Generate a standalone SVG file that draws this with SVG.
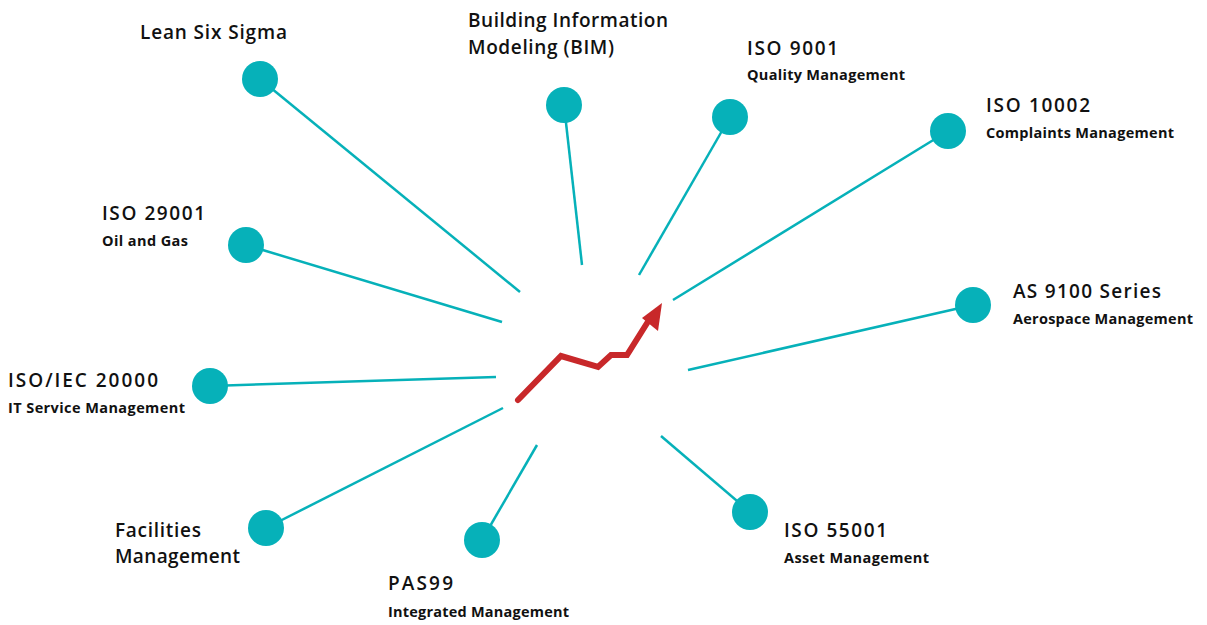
<svg xmlns="http://www.w3.org/2000/svg" width="1207" height="625" viewBox="0 0 1207 625">
<style>
.t{font-family:"Open Sans","Liberation Sans",sans-serif;font-weight:600;fill:#111;}
.h{font-size:19px;}
.s{font-size:14.5px;font-weight:700;}
.c{fill:#06b1b9;}
.l{stroke:#06b1b9;stroke-width:2.5;fill:none;}
</style>
<rect width="1207" height="625" fill="#fff"/>
<g id="connectors">
<line class="l" x1="260" y1="79" x2="520" y2="292"/>
<line class="l" x1="564" y1="105" x2="582" y2="265"/>
<line class="l" x1="730" y1="117" x2="639" y2="275"/>
<line class="l" x1="948" y1="131" x2="673" y2="300"/>
<line class="l" x1="973" y1="305" x2="688" y2="370"/>
<line class="l" x1="750" y1="512" x2="661" y2="436"/>
<line class="l" x1="482" y1="540" x2="537" y2="445"/>
<line class="l" x1="266" y1="528" x2="503" y2="408"/>
<line class="l" x1="210" y1="386" x2="496" y2="377"/>
<line class="l" x1="246" y1="245" x2="502" y2="322"/>
</g>
<g id="center-arrow">
<polyline points="518,400 561,356 598,367 611,355 627,355 649,320" fill="none" stroke="#c8282a" stroke-width="6" stroke-linecap="round" stroke-linejoin="miter"/>
<polygon points="662,303 658,331 642,318" fill="#c8282a"/>
</g>
<g id="n-lean"><circle class="c" cx="260" cy="79" r="18"/><text class="t h" x="140" y="39" textLength="147">Lean Six Sigma</text></g>
<g id="n-bim"><circle class="c" cx="564" cy="105" r="18"/><text class="t h" x="468" y="27" textLength="200">Building Information</text><text class="t h" x="468" y="54" textLength="146">Modeling (BIM)</text></g>
<g id="n-iso9001"><circle class="c" cx="730" cy="117" r="18"/><text class="t h" x="747" y="55" textLength="91">ISO 9001</text><text class="t s" x="747" y="80" textLength="158">Quality Management</text></g>
<g id="n-iso10002"><circle class="c" cx="948" cy="131" r="18"/><text class="t h" x="986" y="112" textLength="104">ISO 10002</text><text class="t s" x="986" y="138" textLength="188">Complaints Management</text></g>
<g id="n-as9100"><circle class="c" cx="973" cy="305" r="18"/><text class="t h" x="1013" y="298" textLength="148">AS 9100 Series</text><text class="t s" x="1013" y="324" textLength="180">Aerospace Management</text></g>
<g id="n-iso55001"><circle class="c" cx="750" cy="512" r="18"/><text class="t h" x="784" y="537" textLength="103">ISO 55001</text><text class="t s" x="784" y="563" textLength="145">Asset Management</text></g>
<g id="n-pas99"><circle class="c" cx="482" cy="540" r="18"/><text class="t h" x="388" y="590" textLength="65">PAS99</text><text class="t s" x="388" y="617" textLength="181">Integrated Management</text></g>
<g id="n-facilities"><circle class="c" cx="266" cy="528" r="18"/><text class="t h" x="115" y="537" textLength="86">Facilities</text><text class="t h" x="115" y="563" textLength="125">Management</text></g>
<g id="n-iso20000"><circle class="c" cx="210" cy="386" r="18"/><text class="t h" x="8" y="387" textLength="150">ISO/IEC 20000</text><text class="t s" x="8" y="413" textLength="177">IT Service Management</text></g>
<g id="n-iso29001"><circle class="c" cx="246" cy="245" r="18"/><text class="t h" x="102" y="220" textLength="103">ISO 29001</text><text class="t s" x="102" y="246" textLength="86">Oil and Gas</text></g>
</svg>
